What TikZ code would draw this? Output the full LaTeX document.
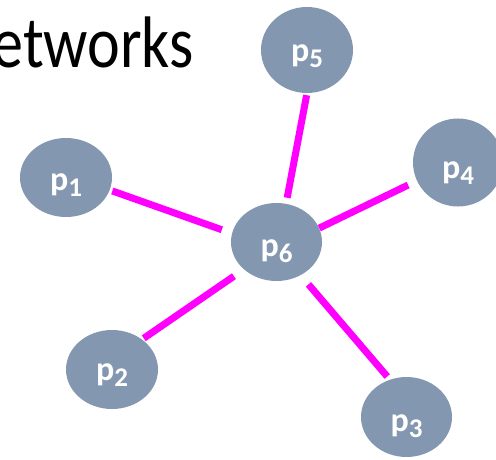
\documentclass[tikz,border=0pt]{standalone}
\usepackage{fontspec}
\setmainfont{Carlito}
\usetikzlibrary{shapes.geometric}
\definecolor{nodefill}{HTML}{8497B0}
\definecolor{linkmag}{HTML}{FF00FF}
\newcommand\plabel[1]{p\raisebox{-6pt}{\fontsize{27}{27}\selectfont #1}}
\begin{document}
\begin{tikzpicture}[x=1pt,y=-1pt,
  pnode/.style={ellipse, fill=nodefill, inner sep=0pt, text=white,
    font=\bfseries\fontsize{34}{34}\selectfont, text depth=0pt},
  link/.style={draw=linkmag, line width=7pt}]
\clip (0,0) rectangle (496,460);
\useasboundingbox (0,0) rectangle (496,460);
\node[anchor=base east, inner sep=0pt, font=\fontsize{73}{73}\selectfont] (title) at (194,68) {\scalebox{0.85}[1]{etworks}};
\node[pnode, minimum width=92pt, minimum height=79pt, text height=25pt] (p1) at (66,177.5) {\plabel{1}};
\node[pnode, minimum width=92pt, minimum height=79pt, text height=21pt] (p2) at (112,369.5) {\plabel{2}};
\node[pnode, minimum width=91pt, minimum height=80pt, text height=29pt] (p3) at (406.5,417) {\plabel{3}};
\node[pnode, minimum width=90pt, minimum height=88pt, text height=32pt] (p4) at (458,162.5) {\plabel{4}};
\node[pnode, minimum width=92pt, minimum height=86pt, text height=24pt] (p5) at (307,50) {\plabel{5}};
\node[pnode, minimum width=91pt, minimum height=78pt, text height=29pt] (p6) at (276.5,242) {\plabel{6}};
\draw[link, shorten <=2.7pt, shorten >=10.7pt] (p1.-16.9) -- (p6.169.7);
\draw[link, shorten <=2pt, shorten >=6pt] (p5.-90) -- (p6.76);
\draw[link, shorten >=9.7pt] (p6.18.4) -- (p4.-156.25);
\draw[link, shorten <=12pt, shorten >=2pt] (p6.-140.2) -- (p2.45.9);
\draw[link, shorten <=12pt, shorten >=4pt] (p6.-54.2) -- (p3.114.3);
\end{tikzpicture}
\end{document}
